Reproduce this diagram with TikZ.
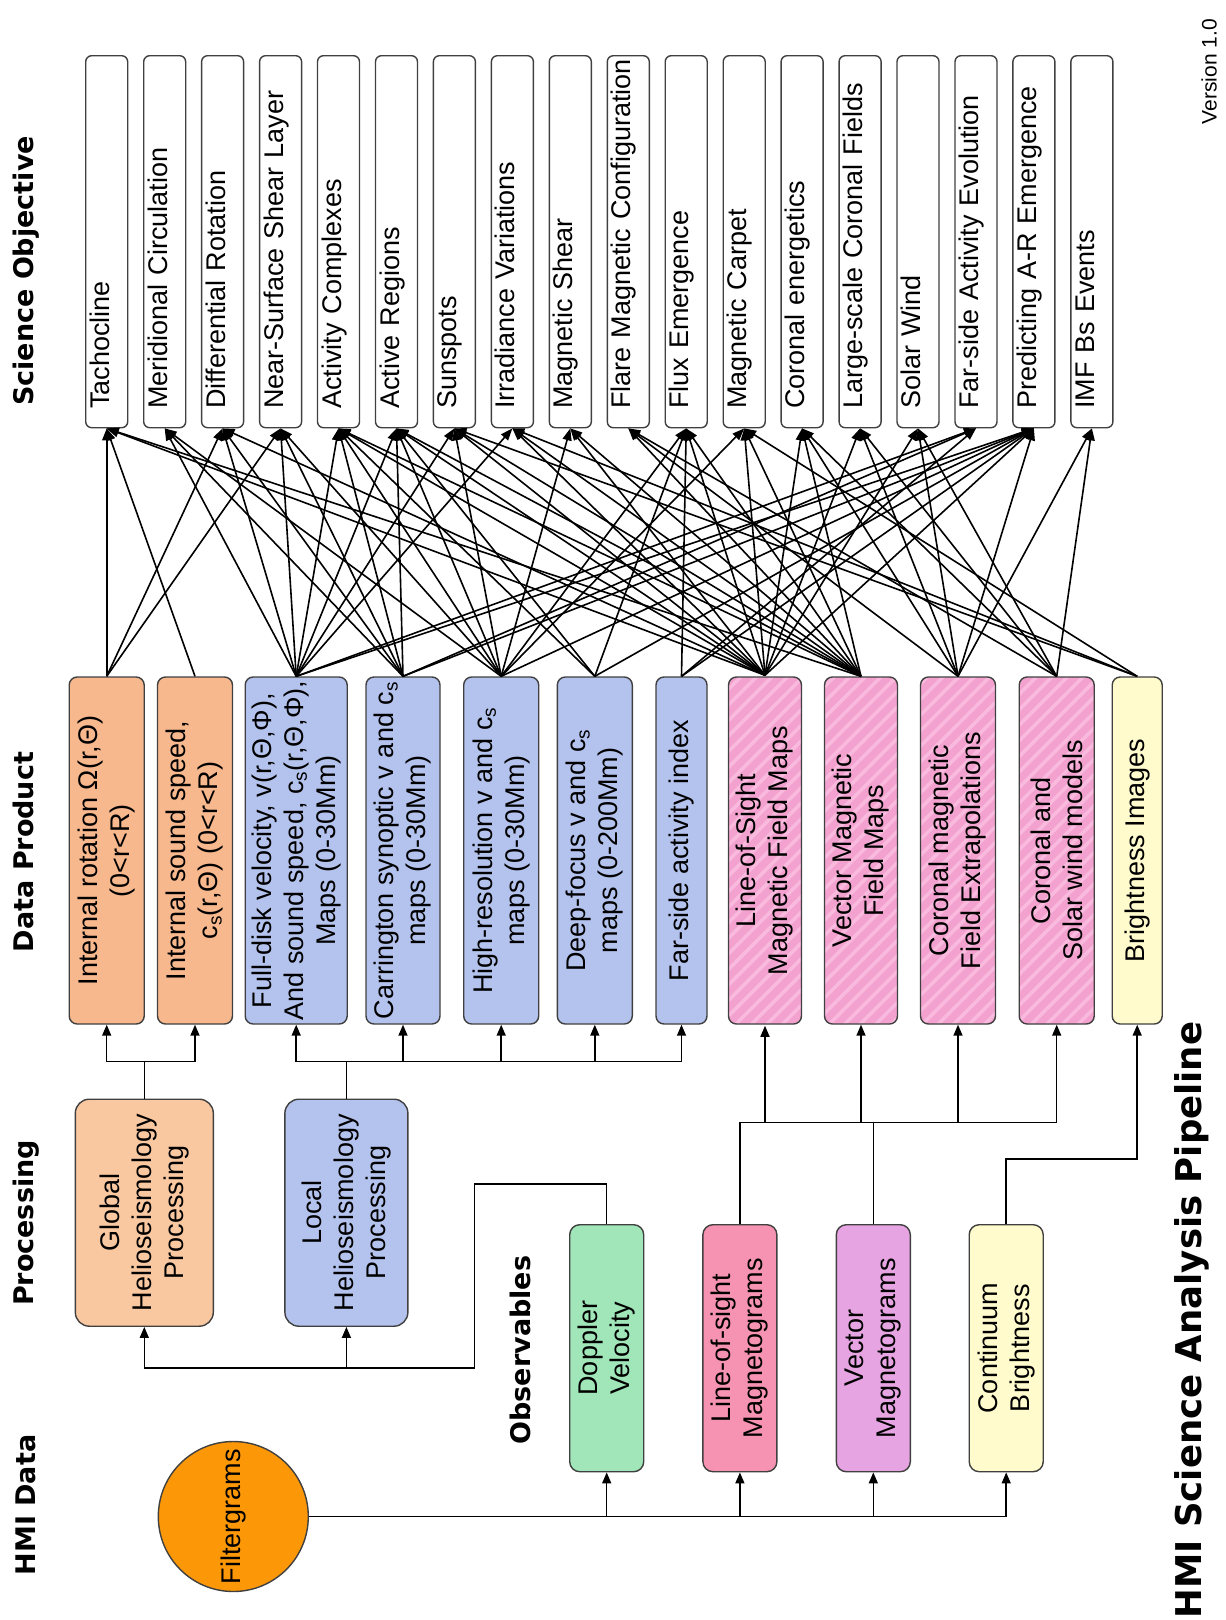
\documentclass[tikz,border=0pt]{standalone}
\usepackage{fontspec}
\setmainfont{Liberation Sans}
\newfontfamily\headfont{DejaVu Sans}
\usetikzlibrary{arrows.meta,patterns.meta}

\definecolor{filtorange}{RGB}{252,152,8}
\definecolor{globfill}{RGB}{250,200,160}
\definecolor{rotfill}{RGB}{248,184,142}
\definecolor{bluefill}{RGB}{180,195,238}
\definecolor{dopgreen}{RGB}{160,230,184}
\definecolor{losgpink}{RGB}{246,146,178}
\definecolor{vecgpurple}{RGB}{230,164,226}
\definecolor{lightyellow}{RGB}{255,251,204}
\definecolor{magpink}{RGB}{243,162,208}
\definecolor{stripepink}{RGB}{249,186,222}

\tikzset{
  box/.style={draw=black!75, line width=1.4pt, rounded corners=8pt, rotate=90,
    inner sep=0pt, align=center, font=\fontsize{27}{32}\selectfont},
  sciobj/.style={box, rounded corners=6pt, fill=white, minimum width=372pt,
    minimum height=42pt, text width=334pt, inner xsep=19pt, align=left,
    text height=0.72em, text depth=0.22em},
  dprod/.style={box, minimum width=347pt},
  magprod/.style={dprod, preaction={fill=magpink},
    pattern={Lines[angle=45,distance=11pt,line width=3.5pt]},
    pattern color=stripepink},
  proc/.style={box, rounded corners=14pt, minimum width=227pt},
  obs/.style={box, rounded corners=10pt, minimum width=247pt, minimum height=74pt},
  heading/.style={rotate=90, inner sep=0pt, anchor=base,
    font=\headfont\bfseries\fontsize{27}{32}\selectfont},
  wire/.style={line width=1.5pt, black},
  tip/.style={-{Triangle[length=11pt,width=9pt]}},
  fan/.style={line width=1.6pt, black, -{Triangle[length=12pt,width=9pt]}}
}

\begin{document}
\begin{tikzpicture}[x=1pt, y=-1pt]
\useasboundingbox (0,0) rectangle (1226,1620);

% column headings
\node[heading] (hsci) at (33.5,271) {Science Objective};
\node[heading] (hdat) at (33.5,852) {Data Product};
\node[heading] (hpro) at (33.5,1223) {Processing};
\node[heading] (hhmi) at (35,1505) {HMI Data};
\node[heading] (hobs) at (530,1350) {Observables};
\node[heading, font=\headfont\bfseries\fontsize{35.5}{40}\selectfont] (title) at (1201,1320) {HMI Science Analysis Pipeline};
\node[rotate=90, anchor=base, inner sep=0pt, font=\fontsize{21}{24}\selectfont] (vers) at (1216.5,71.5) {Version 1.0};

% science objectives
\node[sciobj] (tach) at (106.7,241.7) {Tachocline};
\node[sciobj] (mer)  at (164.7,241.7) {Meridional Circulation};
\node[sciobj] (dif)  at (222.6,241.7) {Differential Rotation};
\node[sciobj] (nss)  at (280.6,241.7) {Near-Surface Shear Layer};
\node[sciobj] (acx)  at (338.5,241.7) {Activity Complexes};
\node[sciobj] (arg)  at (396.5,241.7) {Active Regions};
\node[sciobj] (spot) at (454.4,241.7) {Sunspots};
\node[sciobj] (irr)  at (512.4,241.7) {Irradiance Variations};
\node[sciobj] (msh)  at (570.3,241.7) {Magnetic Shear};
\node[sciobj] (flr)  at (628.3,241.7) {\mbox{Flare Magnetic Configuration}};
\node[sciobj] (flux) at (686.2,241.7) {Flux Emergence};
\node[sciobj] (carp) at (744.2,241.7) {Magnetic Carpet};
\node[sciobj] (cen)  at (802.1,241.7) {Coronal energetics};
\node[sciobj] (lcf)  at (860.1,241.7) {Large-scale Coronal Fields};
\node[sciobj] (swd)  at (918.0,241.7) {Solar Wind};
\node[sciobj] (fsae) at (976.0,241.7) {Far-side Activity Evolution};
\node[sciobj] (pare) at (1033.9,241.7) {Predicting A-R Emergence};
\node[sciobj] (imf)  at (1091.9,241.7) {IMF Bs Events};

% data products
\node[dprod, fill=rotfill, minimum height=75pt] (irot) at (106.7,850.5)
  {Internal rotation Ω(r,Θ)\\(0<r<R)};
\node[dprod, fill=rotfill, minimum height=75pt] (isnd) at (195,850.5)
  {Internal sound speed,\\c\textsubscript{s}(r,Θ) (0<r<R)};
\node[dprod, fill=bluefill, minimum height=102pt] (fdsk) at (296.2,850.5)
  {Full-disk velocity, v(r,Θ,Φ),\\And sound speed, c\textsubscript{s}(r,Θ,Φ),\\Maps (0-30Mm)};
\node[dprod, fill=bluefill, minimum height=74pt] (carr) at (403,850.5)
  {Carrington synoptic v and c\textsubscript{s}\\maps (0-30Mm)};
\node[dprod, fill=bluefill, minimum height=75pt] (hres) at (501.2,850.5)
  {High-resolution v and c\textsubscript{s}\\maps (0-30Mm)};
\node[dprod, fill=bluefill, minimum height=75pt] (deep) at (594.8,850.5)
  {Deep-focus v and c\textsubscript{s}\\maps (0-200Mm)};
\node[dprod, fill=bluefill, minimum height=51pt] (fsai) at (681.5,850.5)
  {Far-side activity index};
\node[magprod, minimum height=73pt] (losm) at (765,850.5)
  {Line-of-Sight\\Magnetic Field Maps};
\node[magprod, minimum height=73pt] (vecm) at (861,850.5)
  {Vector Magnetic\\Field Maps};
\node[magprod, minimum height=75pt] (crmg) at (958,850.5)
  {Coronal magnetic\\Field Extrapolations};
\node[magprod, minimum height=75pt] (crsw) at (1056.7,850.5)
  {Coronal and\\Solar wind models};
\node[dprod, fill=lightyellow, minimum height=50pt] (brim) at (1137.2,850.5)
  {Brightness Images};

% processing
\node[proc, fill=globfill, minimum height=138pt] (glob) at (144.3,1212.7)
  {Global\\Helioseismology\\Processing};
\node[proc, fill=bluefill, minimum height=123pt] (locl) at (346.4,1212.7)
  {Local\\Helioseismology\\Processing};

% observables
\node[obs, fill=dopgreen] (dopp) at (606.7,1348.2) {Doppler\\Velocity};
\node[obs, fill=losgpink] (losg) at (739.9,1348.2) {Line-of-sight\\Magnetograms};
\node[obs, fill=vecgpurple] (vecg) at (873.3,1348.2) {Vector\\Magnetograms};
\node[obs, fill=lightyellow] (cont) at (1006.2,1348.2) {Continuum\\Brightness};

% HMI data
\node[circle, draw=black!75, line width=1.4pt, fill=filtorange, minimum size=150pt,
  inner sep=0pt, rotate=90, font=\fontsize{27}{32}\selectfont] (filt) at (233.3,1516.5) {Filtergrams};

% filtergrams to observables
\draw[wire] (filt.south) -- (filt.south -| cont.west);
\foreach \o in {dopp,losg,vecg,cont}
  \draw[wire,tip] (\o.west |- filt.south) -- (\o.west);

% doppler to helioseismology
\coordinate (dknee) at (474.5,1183.8);
\coordinate (hbus) at (474.5,1368.2);
\draw[wire] (dopp.east) |- (dknee) -- (hbus) -- (hbus -| glob.west);
\foreach \p in {glob,locl}
  \draw[wire,tip] (\p.west |- hbus) -- (\p.west);

% helioseismology to data products
\coordinate (gbus) at (0,1061.7);
\draw[wire] (glob.east) -- (glob.east |- gbus);
\draw[wire] (irot.west |- gbus) -- (isnd.west |- gbus);
\draw[wire] (locl.east) -- (locl.east |- gbus);
\draw[wire] (fdsk.west |- gbus) -- (fsai.west |- gbus);
\foreach \d in {irot,isnd,fdsk,carr,hres,deep,fsai}
  \draw[wire,tip] (\d.west |- gbus) -- (\d.west);

% magnetograms to data products
\coordinate (mbus) at (0,1122.7);
\draw[wire] (losg.east) -- (losg.east |- mbus) -- (crsw.west |- mbus);
\draw[wire] (vecg.east) -- (vecg.east |- mbus);
\foreach \d in {losm,vecm,crmg,crsw}
  \draw[wire,tip] (\d.west |- mbus) -- (\d.west);

% continuum to brightness
\coordinate (cbus) at (0,1159);
\draw[wire,tip] (cont.east) -- (cont.east |- cbus) -| (brim.west);

% data products to science objectives
\foreach \s/\t in {irot/tach, irot/dif, irot/nss, isnd/tach,
    fdsk/mer, fdsk/dif, fdsk/nss, fdsk/acx, fdsk/arg, fdsk/spot, fdsk/irr, fdsk/fsae, fdsk/pare,
    carr/mer, carr/dif, carr/nss, carr/acx, carr/arg, carr/fsae, carr/pare,
    hres/mer, hres/nss, hres/acx, hres/arg, hres/spot, hres/msh, hres/flux, hres/carp, hres/pare,
    deep/acx, deep/arg, deep/flux, deep/pare,
    fsai/flux, fsai/fsae, fsai/pare,
    losm/tach, losm/dif, losm/acx, losm/arg, losm/spot, losm/irr, losm/msh, losm/flux,
    losm/carp, losm/cen, losm/lcf, losm/swd, losm/pare,
    vecm/tach, vecm/acx, vecm/arg, vecm/spot, vecm/irr, vecm/msh, vecm/flr, vecm/flux,
    vecm/carp, vecm/cen,
    crmg/flr, crmg/cen, crmg/lcf, crmg/swd, crmg/imf, crmg/pare,
    crsw/flr, crsw/cen, crsw/lcf, crsw/swd, crsw/imf,
    brim/spot, brim/irr, brim/carp}
  \draw[fan] (\s.east) -- (\t.west);
\end{tikzpicture}
\end{document}
